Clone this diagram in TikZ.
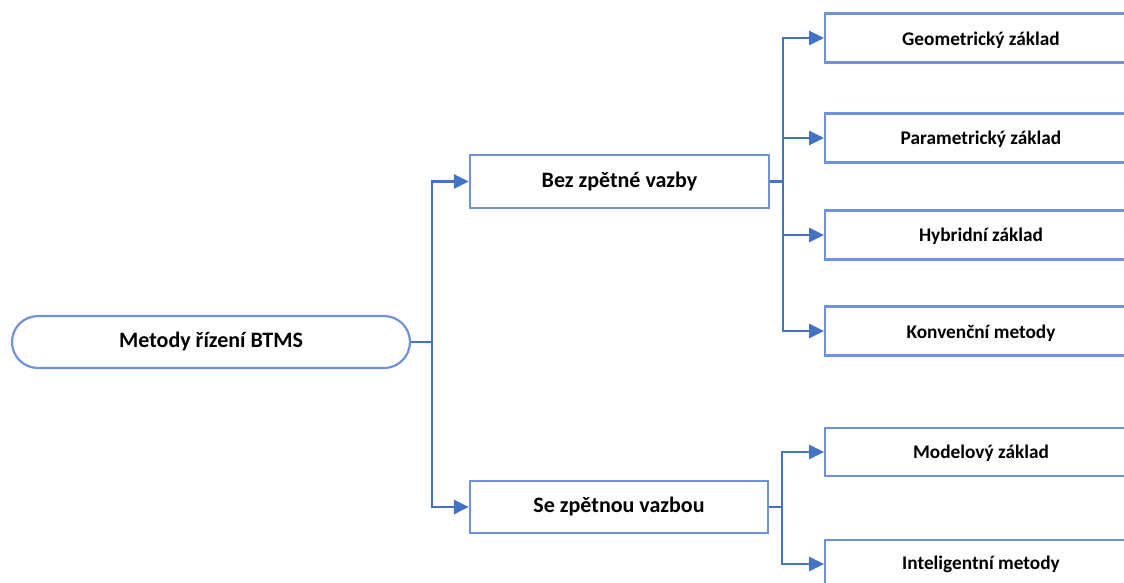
\documentclass[tikz,border=0pt]{standalone}
\usepackage{fontspec}
\setmainfont{Carlito}
\usetikzlibrary{arrows.meta}
\definecolor{lineblue}{HTML}{4472C4}
\definecolor{boxblue}{HTML}{6F93D6}
\tikzset{
  box/.style={draw=boxblue, line width=2.2pt, fill=white, inner sep=0pt},
  conn/.style={draw=lineblue, line width=2.8pt},
  arr/.style={conn, -{Triangle[length=15pt,width=14pt]}},
  big/.style={font=\bfseries\fontsize{22}{26}\selectfont},
  small/.style={font=\bfseries\fontsize{19.3}{23}\selectfont}
}
\begin{document}
\begin{tikzpicture}[x=1pt,y=-1pt]
\useasboundingbox (0,0) rectangle (1124,582);
\fill[white] (0,0) rectangle (1124,582);
% root
\node[box, rounded corners=26pt, minimum width=398pt, minimum height=52pt, big] (root) at (211,342) {Metody řízení BTMS};
% middle
\node[box, minimum width=299pt, minimum height=53pt, big] (bez) at (619.5,181.5) {Bez zpětné vazby};
\node[box, minimum width=298pt, minimum height=52pt, big] (se) at (619,507) {Se zpětnou vazbou};
% right boxes
\node[box, minimum width=320pt, minimum height=49pt, anchor=west] (geo) at (824,38) {};
\node[box, minimum width=320pt, minimum height=49pt, anchor=west] (par) at (824,138) {};
\node[box, minimum width=320pt, minimum height=49pt, anchor=west] (hyb) at (824,235) {};
\node[box, minimum width=320pt, minimum height=49pt, anchor=west] (kon) at (824,331) {};
\node[box, minimum width=320pt, minimum height=48pt, anchor=west] (mod) at (824,452) {};
\node[box, minimum width=320pt, minimum height=48pt, anchor=west] (int) at (824,564) {};
\node[small] (geot) at (981,40) {Geometrický základ};
\node[small] (part) at (981,139) {Parametrický základ};
\node[small] (hybt) at (981,236) {Hybridní základ};
\node[small] (kont) at (981,333) {Konvenční metody};
\node[small] (modt) at (981,453) {Modelový základ};
\node[small] (intt) at (981,564) {Inteligentní metody};
% connectors
\coordinate (j1) at (432,342);
\coordinate (j2) at (783,181.5);
\coordinate (j3) at (782,507);
\draw[conn] (root.east) -- (j1);
\draw[arr] (j1) |- (bez.west);
\draw[arr] (j1) |- (se.west);
\draw[conn] (bez.east) -- (j2);
\draw[arr] (j2) |- (geo.west);
\draw[arr] (j2) |- (par.west);
\draw[arr] (j2) |- (hyb.west);
\draw[arr] (j2) |- (kon.west);
\draw[conn] (se.east) -- (j3);
\draw[arr] (j3) |- (mod.west);
\draw[arr] (j3) |- (int.west);
\end{tikzpicture}
\end{document}
